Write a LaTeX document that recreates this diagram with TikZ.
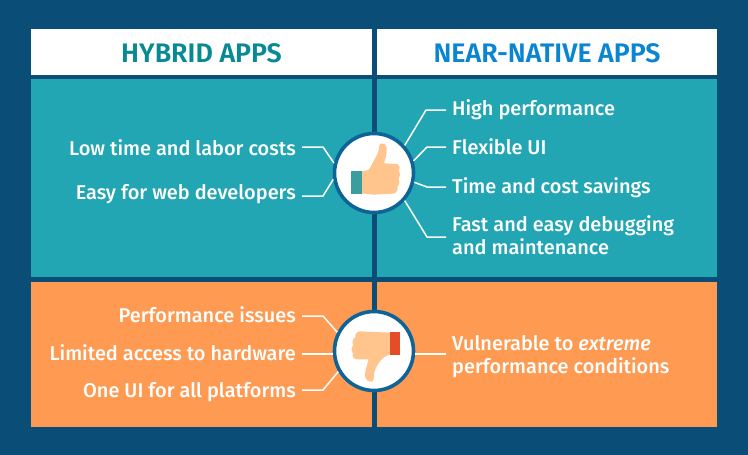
\documentclass[tikz,border=0pt]{standalone}
\usepackage{fontspec}
\setmainfont{Fira Sans}[BoldFont={Fira Sans Medium}]
\newfontfamily\headfont{Fira Sans SemiBold}
\definecolor{navy}{HTML}{0A4D76}
\definecolor{ring}{HTML}{0F6497}
\definecolor{tealp}{HTML}{22A6B3}
\definecolor{orangep}{HTML}{FF9A52}
\definecolor{skin}{HTML}{FFC58D}
\definecolor{cuffg}{HTML}{3A9E9E}
\definecolor{cuffr}{HTML}{E44D26}
\definecolor{hyb}{HTML}{088A94}
\definecolor{nat}{HTML}{0A85D1}
\tikzset{
 x=1pt,y=-1pt,
 item/.style={text=white,font=\fontsize{19.95}{23}\selectfont\bfseries,inner sep=0pt,align=left},
 left item/.style={item,anchor=base east},
 right item/.style={item,anchor=base west},
 two lines/.style={item,anchor=west},
 lead/.style={draw=white,line width=1.5pt,line join=miter},
 head/.style={font=\fontsize{26.8}{30}\selectfont\headfont,inner sep=0pt,anchor=base},
 badge/.style={circle,draw=ring,line width=3.6pt,fill=white,minimum size=79pt,inner sep=0pt},
}
\begin{document}
\begin{tikzpicture}
\useasboundingbox (0,0) rectangle (748,455);
\fill[navy] (0,0) rectangle (748,455);
\fill[white] (31,29) rectangle (372,75);
\fill[white] (377,29) rectangle (717,75);
\fill[tealp] (31,79) rectangle (372,277);
\fill[tealp] (377,79) rectangle (717,277);
\fill[orangep] (31,282) rectangle (372,427);
\fill[orangep] (377,282) rectangle (717,427);
\node[head,text=hyb] (h1) at (201.5,63) {HYBRID APPS};
\node[head,text=nat] (h2) at (547,63) {NEAR-NATIVE APPS};
% upper row
\node[badge] (up) at (374,173) {};
\node[left item] (a1) at (296,155) {Low time and labor costs};
\node[left item] (a2) at (296,199) {Easy for web developers};
\node[right item] (b1) at (452,115) {High performance};
\node[right item] (b2) at (452,154) {Flexible UI};
\node[right item] (b3) at (452,193) {Time and cost savings};
\node[two lines] (b4) at (452,235) {Fast and easy debugging\\and maintenance};
\coordinate (a1s) at (302,147); \coordinate (a1k) at (323,147);
\coordinate (a2s) at (302,196); \coordinate (a2k) at (323,196);
\coordinate (b1s) at (446,110); \coordinate (b1k) at (426,110);
\coordinate (b2s) at (446,147); \coordinate (b2k) at (427,147);
\coordinate (b3s) at (446,187); \coordinate (b3k) at (427,187);
\coordinate (b4s) at (446,237); \coordinate (b4k) at (427,237);
\draw[lead] (a1s) -- (a1k) -- (up.166);
\draw[lead] (a2s) -- (a2k) -- (up.189);
\draw[lead] (b1s) -- (b1k) -- (up.42);
\draw[lead] (b2s) -- (b2k) -- (up.17);
\draw[lead] (b3s) -- (b3k) -- (up.-13);
\draw[lead] (b4s) -- (b4k) -- (up.-42);
% lower row
\node[badge] (down) at (374,351) {};
\node[left item] (c1) at (296,322) {Performance issues};
\node[left item] (c2) at (296,360) {Limited access to hardware};
\node[left item] (c3) at (296,397) {One UI for all platforms};
\node[two lines] (d1) at (452,356.5) {Vulnerable to \textit{extreme}\\performance conditions};
\coordinate (c1s) at (302,316); \coordinate (c1k) at (323,316);
\coordinate (c2s) at (302,354);
\coordinate (c3s) at (302,390); \coordinate (c3k) at (323,390);
\coordinate (d1s) at (446,354);
\draw[lead] (c1s) -- (c1k) -- (down.153);
\draw[lead] (c2s) -- (c2s -| down.west);
\draw[lead] (c3s) -- (c3k) -- (down.210);
\draw[lead] (d1s) -- (d1s -| down.east);
% thumbs, traced in 3x crop coordinates
\begin{scope}[shift={(310,110)},x=0.3333pt,y=-0.3333pt]
\fill[skin] (155,185) -- (175,180) .. controls (185,170) and (188,155) .. (197,142)
 .. controls (205,130) and (207,118) .. (208,106) .. controls (212,98) and (226,98) .. (230,112)
 .. controls (232,128) and (226,145) .. (222,160) -- (262,162) .. controls (270,165) and (271,175) .. (267,182)
 .. controls (272,190) and (271,200) .. (266,205) .. controls (270,213) and (268,225) .. (263,228)
 .. controls (265,240) and (258,250) .. (250,251) -- (190,254) .. controls (175,252) and (165,250) .. (155,251) -- cycle;
\fill[cuffg] (124,183) rectangle (155,252);
\end{scope}
\begin{scope}[shift={(310,290)},x=0.3333pt,y=-0.3333pt]
\fill[skin] (241,128) -- (150,124) .. controls (140,125) and (135,132) .. (136,142)
 .. controls (127,147) and (125,158) .. (130,166) .. controls (123,172) and (123,184) .. (129,190)
 .. controls (125,200) and (132,208) .. (142,208) -- (176,208)
 .. controls (172,225) and (165,240) .. (165,258) .. controls (167,272) and (180,278) .. (188,274)
 .. controls (194,268) and (190,250) .. (196,238) .. controls (203,222) and (212,208) .. (225,200) -- (241,192) -- cycle;
\fill[cuffr] (241,126) rectangle (270,195);
\end{scope}
\end{tikzpicture}
\end{document}
